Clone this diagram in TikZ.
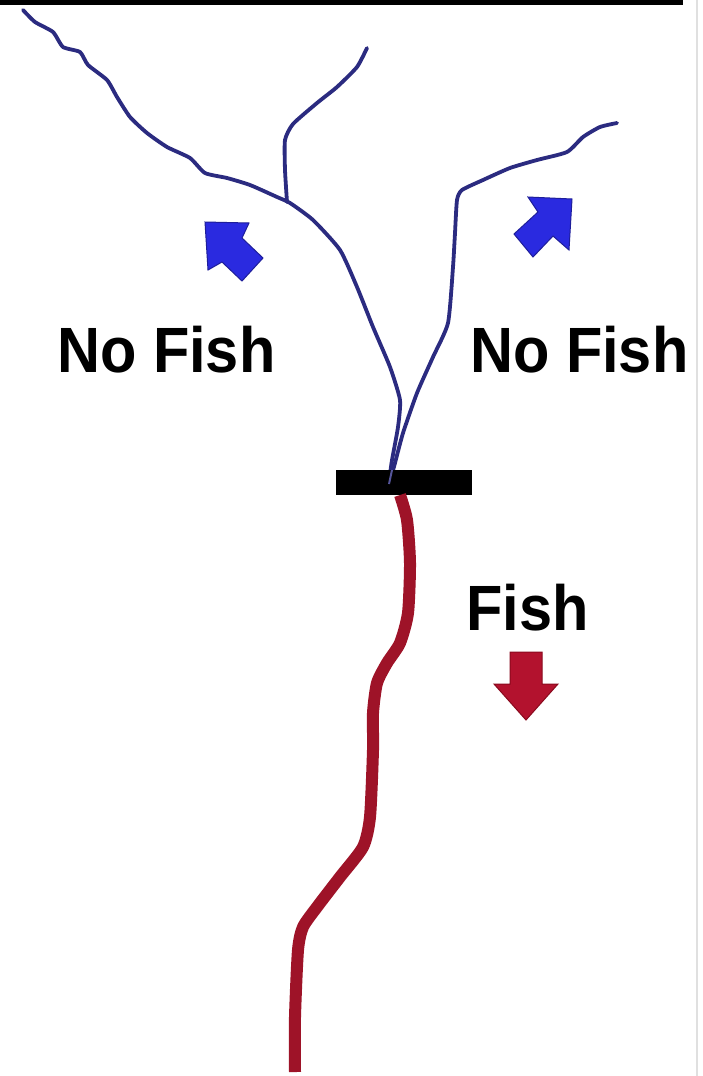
\documentclass[tikz,border=0pt]{standalone}
\usepackage{fontspec}
\setmainfont{Liberation Sans}
\usepackage{graphicx}
\definecolor{riverblue}{HTML}{2B2B80}
\definecolor{riverred}{HTML}{9E1328}
\definecolor{arrowblue}{HTML}{2A2AE0}
\definecolor{arrowblueedge}{HTML}{1E1E9A}
\definecolor{arrowred}{HTML}{B3122E}
\definecolor{arrowrededge}{HTML}{8A0A1E}
\begin{document}
\begin{tikzpicture}[x=1pt,y=-1pt,
  bluestream/.style={draw=riverblue,line width=3.8pt,line cap=round,line join=round},
  redstream/.style={draw=riverred,line width=12pt,line cap=butt,line join=round},
  bluearrow/.style={fill=arrowblue,draw=arrowblueedge,line width=1pt,line join=miter},
  redarrow/.style={fill=arrowred,draw=arrowrededge,line width=1pt,line join=miter},
  label/.style={font=\fontsize{64}{64}\selectfont\bfseries,text=black,inner sep=0pt,anchor=base west}]
\useasboundingbox (0,0) rectangle (703,1076);
\fill[white] (0,0) rectangle (703,1076);
% frame edges
\fill[black] (0,0) rectangle (683,5);
\draw[black!12,line width=1.5pt] (697,0) -- (697,1076);

% left branch
\draw[bluestream] plot[smooth,tension=0.35] coordinates {
 (23,10) (35,22) (53,32) (63,47) (80,52) (88,65) (107,80) (117,97) (130,117)
 (147,133) (167,147) (190,158) (205,173) (227,178) (250,185) (277,197) (290,203)
 (313,220) (340,250) (357,287) (373,327) (390,367) (400,400) (398,427) (392,460) (390,474)};
% middle branch
\draw[bluestream] plot[smooth,tension=0.35] coordinates {
 (287,202) (285,170) (285,140) (293,124) (317,103) (337,87) (357,67) (367,48)};
% right branch
\draw[bluestream] plot[smooth,tension=0.35] coordinates {
 (617,123) (600,127) (583,137) (567,152) (537,160) (510,168) (483,180) (462,190)
 (457,200) (455,233) (453,267) (448,323) (433,357) (417,393) (403,433) (395,463) (392,474)};

% dam
\fill[black] (336,470) rectangle (472,495);
\draw[riverblue!80,line width=2pt] (392,470) -- (389,484);

% lower river
\draw[redstream] plot[smooth,tension=0.4] coordinates {
 (400,495) (407,520) (410,563) (408,613) (400,643) (387,663) (377,683) (373,713)
 (373,750) (370,817) (363,847) (340,877) (317,907) (303,927) (298,950) (295,1017) (295,1072)};

% arrows
\draw[bluearrow] (205,222) -- (249,223) -- (242,238) -- (263,258) -- (242,281) -- (222,262) -- (208,270) -- cycle;
\draw[bluearrow] (572,199) -- (528,197) -- (538,212) -- (514,234) -- (533,257) -- (553,236) -- (569,250) -- cycle;
\draw[redarrow] (510,652) -- (542,652) -- (542,684) -- (558,684) -- (526,720) -- (494,684) -- (510,684) -- cycle;

% labels
\node[label] (nofishl) at (57,372) {\scalebox{0.93}[1]{No Fish}};
\node[label] (nofishr) at (470,372) {\scalebox{0.93}[1]{No Fish}};
\node[label] (fish) at (466,630) {\scalebox{0.93}[1]{Fish}};
\end{tikzpicture}
\end{document}
